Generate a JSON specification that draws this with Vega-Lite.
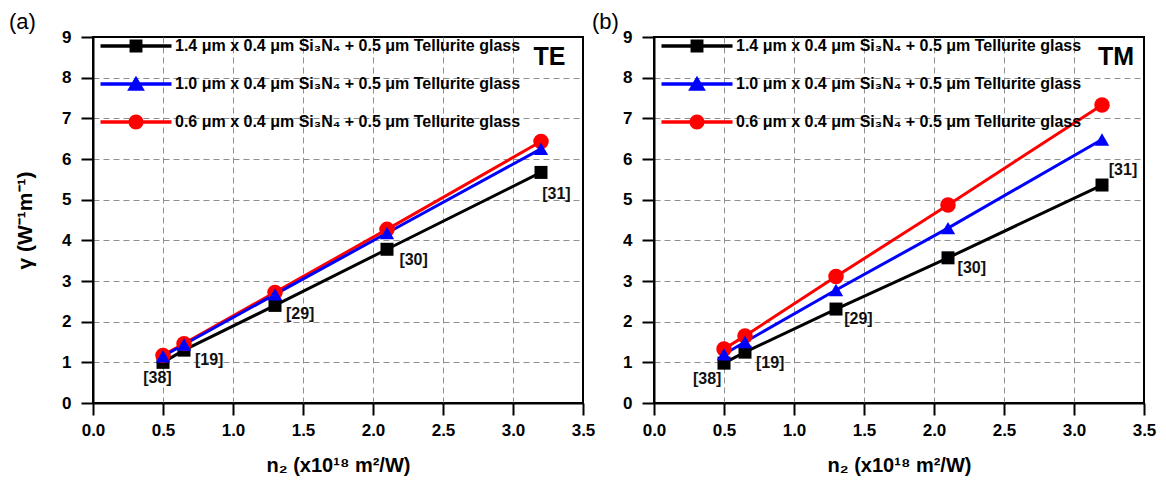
{
  "$schema": "https://vega.github.io/schema/vega-lite/v6.json",
  "background": "white",
  "padding": {"left": 8, "top": 10, "right": 5, "bottom": 2},
  "bounds": "flush",
  "spacing": 71,
  "datasets": {
    "gamma": [
      {"mode": "TE", "s": "k", "n2": 0.5, "g": 1.0},
      {"mode": "TE", "s": "k", "n2": 0.65, "g": 1.3},
      {"mode": "TE", "s": "k", "n2": 1.3, "g": 2.4},
      {"mode": "TE", "s": "k", "n2": 2.1, "g": 3.78},
      {"mode": "TE", "s": "k", "n2": 3.2, "g": 5.67},
      {"mode": "TE", "s": "r", "n2": 0.5, "g": 1.17},
      {"mode": "TE", "s": "r", "n2": 0.65, "g": 1.46},
      {"mode": "TE", "s": "r", "n2": 1.3, "g": 2.72},
      {"mode": "TE", "s": "r", "n2": 2.1, "g": 4.27},
      {"mode": "TE", "s": "r", "n2": 3.2, "g": 6.43},
      {"mode": "TE", "s": "b", "n2": 0.5, "g": 1.15},
      {"mode": "TE", "s": "b", "n2": 0.65, "g": 1.44},
      {"mode": "TE", "s": "b", "n2": 1.3, "g": 2.67},
      {"mode": "TE", "s": "b", "n2": 2.1, "g": 4.18},
      {"mode": "TE", "s": "b", "n2": 3.2, "g": 6.25},
      {"mode": "TM", "s": "k", "n2": 0.5, "g": 0.98},
      {"mode": "TM", "s": "k", "n2": 0.65, "g": 1.25},
      {"mode": "TM", "s": "k", "n2": 1.3, "g": 2.31},
      {"mode": "TM", "s": "k", "n2": 2.1, "g": 3.57},
      {"mode": "TM", "s": "k", "n2": 3.2, "g": 5.36},
      {"mode": "TM", "s": "r", "n2": 0.5, "g": 1.33},
      {"mode": "TM", "s": "r", "n2": 0.65, "g": 1.65},
      {"mode": "TM", "s": "r", "n2": 1.3, "g": 3.11},
      {"mode": "TM", "s": "r", "n2": 2.1, "g": 4.87},
      {"mode": "TM", "s": "r", "n2": 3.2, "g": 7.33},
      {"mode": "TM", "s": "b", "n2": 0.5, "g": 1.2},
      {"mode": "TM", "s": "b", "n2": 0.65, "g": 1.5},
      {"mode": "TM", "s": "b", "n2": 1.3, "g": 2.78},
      {"mode": "TM", "s": "b", "n2": 2.1, "g": 4.3},
      {"mode": "TM", "s": "b", "n2": 3.2, "g": 6.48}
    ],
    "notes": [
      {"mode": "TE", "kind": "ref", "n2": 0.46, "g": 0.61, "label": "[38]"},
      {"mode": "TE", "kind": "ref", "n2": 0.83, "g": 1.06, "label": "[19]"},
      {"mode": "TE", "kind": "ref", "n2": 1.48, "g": 2.19, "label": "[29]"},
      {"mode": "TE", "kind": "ref", "n2": 2.29, "g": 3.52, "label": "[30]"},
      {"mode": "TE", "kind": "ref", "n2": 3.31, "g": 5.14, "label": "[31]"},
      {"mode": "TE", "kind": "mode", "n2": 3.26, "g": 8.5, "label": "TE"},
      {"mode": "TM", "kind": "ref", "n2": 0.38, "g": 0.59, "label": "[38]"},
      {"mode": "TM", "kind": "ref", "n2": 0.83, "g": 0.98, "label": "[19]"},
      {"mode": "TM", "kind": "ref", "n2": 1.46, "g": 2.07, "label": "[29]"},
      {"mode": "TM", "kind": "ref", "n2": 2.27, "g": 3.32, "label": "[30]"},
      {"mode": "TM", "kind": "ref", "n2": 3.35, "g": 5.73, "label": "[31]"},
      {"mode": "TM", "kind": "mode", "n2": 3.3, "g": 8.5, "label": "TM"}
    ]
  },
  "resolve": {"legend": {"color": "independent"}},
  "hconcat": [
    {
      "width": 490,
      "height": 366,
      "title": {"text": "(a)", "anchor": "start", "frame": "group", "dx": -84, "offset": -6, "fontSize": 22, "fontWeight": "normal", "font": "Liberation Sans", "color": "black"},
      "layer": [
        {
          "data": {"name": "gamma"},
          "transform": [{"filter": "datum.mode === 'TE'"}],
          "mark": {"type": "line", "strokeWidth": 3},
          "encoding": {
            "x": {"field": "n2", "type": "quantitative", "scale": {"domain": [0, 3.5], "nice": false, "zero": false}, "title": "n₂ (x10¹⁸ m²/W)",
              "axis": {"values": [0, 0.25, 0.5, 0.75, 1, 1.25, 1.5, 1.75, 2, 2.25, 2.5, 2.75, 3, 3.25, 3.5], "format": ".1f", "labelExpr": "(datum.value * 2) % 1 === 0 ? datum.label : ''",
                "tickSize": {"condition": {"test": "(datum.value * 2) % 1 !== 0", "value": 7}, "value": 12},
                "gridOpacity": {"condition": {"test": "(datum.value * 2) % 1 !== 0 || datum.value === 0 || datum.value === 3.5", "value": 0}, "value": 1}}},
            "y": {"field": "g", "type": "quantitative", "scale": {"domain": [0, 9], "nice": false}, "title": "γ (W⁻¹m⁻¹)",
              "axis": {"values": [0, 0.5, 1, 1.5, 2, 2.5, 3, 3.5, 4, 4.5, 5, 5.5, 6, 6.5, 7, 7.5, 8, 8.5, 9], "format": "d", "labelExpr": "datum.value % 1 === 0 ? datum.label : ''",
                "tickSize": {"condition": {"test": "datum.value % 1 !== 0", "value": 7}, "value": 12},
                "gridOpacity": {"condition": {"test": "datum.value % 1 !== 0 || datum.value === 0 || datum.value === 9", "value": 0}, "value": 1}}},
            "color": {"field": "s", "type": "nominal", "scale": {"domain": ["k", "b", "r"], "range": ["#000000", "#0000ff", "#ff0000"]},
              "legend": {"orient": "none", "legendX": 30, "legendY": -4, "title": null, "padding": 0, "labelLimit": 0,
                "labelExpr": "datum.value === 'k' ? '1.4 μm x 0.4 μm Si₃N₄ + 0.5 μm Tellurite glass' : datum.value === 'b' ? '1.0 μm x 0.4 μm Si₃N₄ + 0.5 μm Tellurite glass' : '0.6 μm x 0.4 μm Si₃N₄ + 0.5 μm Tellurite glass'",
                "symbolSize": 643, "rowPadding": 17, "labelOffset": 26,
                "encode": {"symbols": {"update": {
                  "shape": {"signal": "datum.value === 'k' ? 'M-2.8,-0.13H2.8V0.13H-2.8Z M-0.51,-0.51H0.51V0.51H-0.51Z' : datum.value === 'b' ? 'M-2.8,-0.13H2.8V0.13H-2.8Z M0,-0.66L0.7,0.53L-0.7,0.53Z' : 'M-2.8,-0.13H2.8V0.13H-2.8Z M-0.59,0A0.59,0.59 0 1,1 0.59,0A0.59,0.59 0 1,1 -0.59,0Z'"},
                  "fill": {"signal": "datum.value === 'k' ? '#000000' : datum.value === 'b' ? '#0000ff' : '#ff0000'"},
                  "stroke": {"value": "transparent"},
                  "strokeWidth": {"value": 0},
                  "opacity": {"value": 1}
                }}}}}
          }
        },
        {
          "data": {"name": "gamma"},
          "transform": [{"filter": "datum.mode === 'TE'"}],
          "mark": {"type": "point", "filled": true, "opacity": 1},
          "encoding": {
            "x": {"field": "n2", "type": "quantitative"},
            "y": {"field": "g", "type": "quantitative"},
            "color": {"field": "s", "type": "nominal", "legend": null},
            "shape": {"field": "s", "type": "nominal", "scale": {"domain": ["k", "b", "r"], "range": ["square", "triangle-up", "circle"]}, "legend": null},
            "size": {"field": "s", "type": "nominal", "scale": {"domain": ["k", "b", "r"], "range": [169, 240, 196]}, "legend": null}
          }
        },
        {
          "data": {"name": "notes"},
          "transform": [{"filter": "datum.mode === 'TE' && datum.kind === 'ref'"}],
          "mark": {"type": "text", "font": "Liberation Sans", "fontWeight": "bold", "fontSize": 16, "color": "#111111"},
          "encoding": {
            "x": {"field": "n2", "type": "quantitative"},
            "y": {"field": "g", "type": "quantitative"},
            "text": {"field": "label"}
          }
        },
        {
          "data": {"name": "notes"},
          "transform": [{"filter": "datum.mode === 'TE' && datum.kind === 'mode'"}],
          "mark": {"type": "text", "font": "Liberation Sans", "fontWeight": "bold", "fontSize": 25, "color": "black"},
          "encoding": {
            "x": {"field": "n2", "type": "quantitative"},
            "y": {"field": "g", "type": "quantitative"},
            "text": {"field": "label"}
          }
        }
      ]
    },
    {
      "width": 490,
      "height": 366,
      "title": {"text": "(b)", "anchor": "start", "frame": "group", "dx": -62, "offset": -6, "fontSize": 22, "fontWeight": "normal", "font": "Liberation Sans", "color": "black"},
      "layer": [
        {
          "data": {"name": "gamma"},
          "transform": [{"filter": "datum.mode === 'TM'"}],
          "mark": {"type": "line", "strokeWidth": 3},
          "encoding": {
            "x": {"field": "n2", "type": "quantitative", "scale": {"domain": [0, 3.5], "nice": false, "zero": false}, "title": "n₂ (x10¹⁸ m²/W)",
              "axis": {"values": [0, 0.25, 0.5, 0.75, 1, 1.25, 1.5, 1.75, 2, 2.25, 2.5, 2.75, 3, 3.25, 3.5], "format": ".1f", "labelExpr": "(datum.value * 2) % 1 === 0 ? datum.label : ''",
                "tickSize": {"condition": {"test": "(datum.value * 2) % 1 !== 0", "value": 7}, "value": 12},
                "gridOpacity": {"condition": {"test": "(datum.value * 2) % 1 !== 0 || datum.value === 0 || datum.value === 3.5", "value": 0}, "value": 1}}},
            "y": {"field": "g", "type": "quantitative", "scale": {"domain": [0, 9], "nice": false}, "title": null,
              "axis": {"values": [0, 0.5, 1, 1.5, 2, 2.5, 3, 3.5, 4, 4.5, 5, 5.5, 6, 6.5, 7, 7.5, 8, 8.5, 9], "format": "d", "labelExpr": "datum.value % 1 === 0 ? datum.label : ''",
                "tickSize": {"condition": {"test": "datum.value % 1 !== 0", "value": 7}, "value": 12},
                "gridOpacity": {"condition": {"test": "datum.value % 1 !== 0 || datum.value === 0 || datum.value === 9", "value": 0}, "value": 1}}},
            "color": {"field": "s", "type": "nominal", "scale": {"domain": ["k", "b", "r"], "range": ["#000000", "#0000ff", "#ff0000"]},
              "legend": {"orient": "none", "legendX": 30, "legendY": -4, "title": null, "padding": 0, "labelLimit": 0,
                "labelExpr": "datum.value === 'k' ? '1.4 μm x 0.4 μm Si₃N₄ + 0.5 μm Tellurite glass' : datum.value === 'b' ? '1.0 μm x 0.4 μm Si₃N₄ + 0.5 μm Tellurite glass' : '0.6 μm x 0.4 μm Si₃N₄ + 0.5 μm Tellurite glass'",
                "symbolSize": 643, "rowPadding": 17, "labelOffset": 26,
                "encode": {"symbols": {"update": {
                  "shape": {"signal": "datum.value === 'k' ? 'M-2.8,-0.13H2.8V0.13H-2.8Z M-0.51,-0.51H0.51V0.51H-0.51Z' : datum.value === 'b' ? 'M-2.8,-0.13H2.8V0.13H-2.8Z M0,-0.66L0.7,0.53L-0.7,0.53Z' : 'M-2.8,-0.13H2.8V0.13H-2.8Z M-0.59,0A0.59,0.59 0 1,1 0.59,0A0.59,0.59 0 1,1 -0.59,0Z'"},
                  "fill": {"signal": "datum.value === 'k' ? '#000000' : datum.value === 'b' ? '#0000ff' : '#ff0000'"},
                  "stroke": {"value": "transparent"},
                  "strokeWidth": {"value": 0},
                  "opacity": {"value": 1}
                }}}}}
          }
        },
        {
          "data": {"name": "gamma"},
          "transform": [{"filter": "datum.mode === 'TM'"}],
          "mark": {"type": "point", "filled": true, "opacity": 1},
          "encoding": {
            "x": {"field": "n2", "type": "quantitative"},
            "y": {"field": "g", "type": "quantitative"},
            "color": {"field": "s", "type": "nominal", "legend": null},
            "shape": {"field": "s", "type": "nominal", "scale": {"domain": ["k", "b", "r"], "range": ["square", "triangle-up", "circle"]}, "legend": null},
            "size": {"field": "s", "type": "nominal", "scale": {"domain": ["k", "b", "r"], "range": [169, 240, 196]}, "legend": null}
          }
        },
        {
          "data": {"name": "notes"},
          "transform": [{"filter": "datum.mode === 'TM' && datum.kind === 'ref'"}],
          "mark": {"type": "text", "font": "Liberation Sans", "fontWeight": "bold", "fontSize": 16, "color": "#111111"},
          "encoding": {
            "x": {"field": "n2", "type": "quantitative"},
            "y": {"field": "g", "type": "quantitative"},
            "text": {"field": "label"}
          }
        },
        {
          "data": {"name": "notes"},
          "transform": [{"filter": "datum.mode === 'TM' && datum.kind === 'mode'"}],
          "mark": {"type": "text", "font": "Liberation Sans", "fontWeight": "bold", "fontSize": 25, "color": "black"},
          "encoding": {
            "x": {"field": "n2", "type": "quantitative"},
            "y": {"field": "g", "type": "quantitative"},
            "text": {"field": "label"}
          }
        }
      ]
    }
  ],
  "config": {
    "view": {"stroke": "black", "strokeWidth": 2},
    "axis": {
      "labelFont": "Liberation Sans", "labelFontWeight": "bold", "labelFontSize": 17, "labelColor": "black",
      "labelFlush": false, "labelOverlap": false,
      "titleFont": "Liberation Sans", "titleFontWeight": "bold", "titleFontSize": 20, "titleColor": "black",
      "domainColor": "black", "domainWidth": 2, "tickColor": "black", "tickWidth": 2,
      "grid": true, "gridColor": "#8f8f8f", "gridDash": [6, 4], "gridWidth": 1
    },
    "axisX": {"titlePadding": 17, "labelPadding": 7},
    "axisY": {"titlePadding": 26, "labelPadding": 10, "titleFontSize": 21},
    "legend": {"labelFont": "Liberation Sans", "labelFontWeight": "bold", "labelFontSize": 16, "labelColor": "black"}
  }
}
